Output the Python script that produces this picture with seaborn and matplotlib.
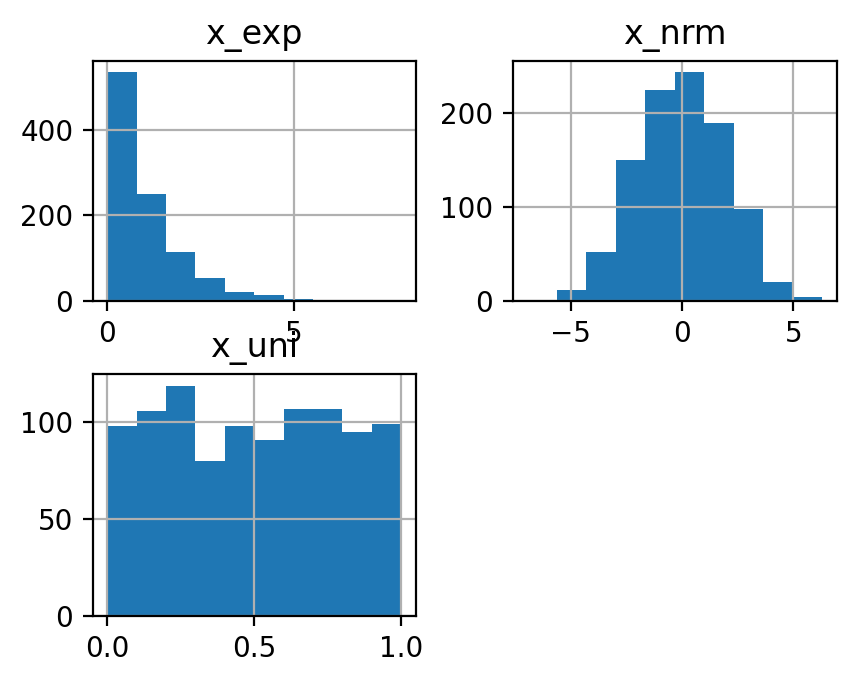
import numpy as np
import pandas as pd
import matplotlib
matplotlib.use("Agg")
import matplotlib.pyplot as plt
import seaborn as sns

# Histogram data (10 bins each)
x_exp_counts = [535, 250, 113, 53, 20, 13, 3, 1, 0, 1]
x_exp_range = (0.02, 7.87)
x_nrm_counts = [1, 11, 52, 150, 224, 243, 189, 98, 20, 4]
x_nrm_range = (-6.94, 6.29)
x_uni_counts = [98, 106, 119, 80, 98, 91, 107, 107, 95, 99]
x_uni_range = (0.0005, 0.9995)

titles = ["x_exp", "x_nrm", "x_uni"]
x_exp_ticks = [0, 5]
x_nrm_ticks = [-5, 0, 5]
x_uni_ticks = [0.0, 0.5, 1.0]

W, H = 856, 683
fig = plt.figure(figsize=(W / 200, H / 200), dpi=200)

def rect(l, t, r, b):
    return [l / W, 1 - b / H, (r - l) / W, (b - t) / H]

axes_rects = [rect(92.7, 60.7, 415.7, 300.7),
              rect(512.7, 60.7, 836.7, 300.7),
              rect(92.7, 374.0, 415.7, 616.0)]

series = [(x_exp_counts, x_exp_range, x_exp_ticks),
          (x_nrm_counts, x_nrm_range, x_nrm_ticks),
          (x_uni_counts, x_uni_range, x_uni_ticks)]

for (counts, rng, ticks), title, r in zip(series, titles, axes_rects):
    ax = fig.add_axes(r)
    nb = len(counts)
    edges = np.linspace(rng[0], rng[1], nb + 1)
    centers = (edges[:-1] + edges[1:]) / 2
    df = pd.DataFrame({"x": centers, "w": counts})
    sns.histplot(data=df, x="x", weights="w", bins=nb, binrange=rng, ax=ax,
                 color="#1f77b4", alpha=1.0, linewidth=0, edgecolor="none")
    ax.set_xticks(ticks)
    ax.set_xlabel("")
    ax.set_ylabel("")
    ax.set_title(title, fontsize=12)
    ax.grid(True, color="#b0b0b0", linewidth=0.8)
    ax.tick_params(labelsize=10)

fig.savefig("out.png", dpi=200)
